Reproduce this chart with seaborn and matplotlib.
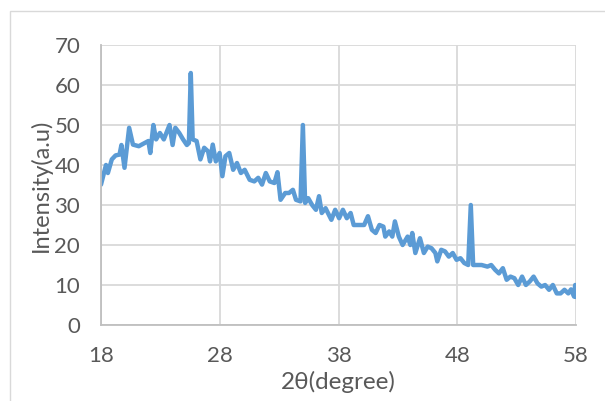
import numpy as np
import pandas as pd
import matplotlib
matplotlib.use("Agg")
import matplotlib.pyplot as plt
import seaborn as sns
from matplotlib.patches import Rectangle

two_theta = [18.00, 18.42, 18.58, 18.91, 19.23, 19.56, 19.72, 19.98, 20.37, 20.69,
             21.18, 21.67, 21.99, 22.15, 22.41, 22.64, 22.96, 23.29, 23.77, 24.03,
             24.26, 24.59, 24.91, 25.23, 25.40, 25.56, 25.72, 26.05, 26.37, 26.69,
             27.02, 27.18, 27.41, 27.67, 27.99, 28.22, 28.48, 28.80, 29.13, 29.45,
             29.78, 30.10, 30.52, 30.91, 31.24, 31.56, 31.88, 32.21, 32.60, 32.86,
             33.12, 33.51, 33.83, 34.16, 34.42, 34.80, 35.00, 35.19, 35.45, 35.78,
             36.10, 36.36, 36.59, 36.91, 37.40, 37.72, 38.05, 38.37, 38.70, 39.02,
             39.28, 39.83, 40.16, 40.48, 40.81, 41.13, 41.45, 41.78, 41.94, 42.27,
             42.53, 42.75, 43.08, 43.40, 43.82, 44.05, 44.21, 44.47, 44.86, 45.19,
             45.51, 45.83, 46.16, 46.32, 46.65, 46.97, 47.29, 47.62, 47.94, 48.27,
             48.59, 48.92, 49.14, 49.34, 50.05, 50.54, 50.86, 51.19, 51.51, 51.84,
             52.16, 52.48, 52.81, 53.13, 53.46, 53.78, 54.11, 54.43, 54.76, 55.08,
             55.40, 55.73, 56.05, 56.38, 56.70, 57.03, 57.35, 57.58, 57.84, 57.93,
             58.00]
intensity = [35.1, 40.0, 38.0, 41.4, 42.4, 42.6, 45.0, 39.3, 49.3, 45.1,
             44.7, 45.5, 46.0, 43.0, 50.0, 46.4, 48.0, 46.4, 50.0, 45.0,
             49.3, 48.0, 46.4, 45.0, 45.5, 63.0, 46.4, 46.0, 41.4, 44.3,
             43.4, 40.9, 45.1, 40.9, 43.0, 37.2, 42.2, 43.0, 38.8, 40.5,
             38.0, 38.8, 36.3, 35.9, 36.8, 35.1, 38.0, 35.9, 35.5, 38.2,
             31.3, 33.0, 33.0, 33.8, 31.3, 30.9, 50.0, 30.5, 31.7, 30.0,
             28.8, 32.2, 28.0, 29.2, 26.3, 28.8, 26.7, 28.8, 26.7, 28.0,
             25.0, 25.0, 25.0, 27.2, 23.8, 23.0, 25.0, 24.6, 22.1, 23.4,
             22.1, 25.9, 22.1, 20.0, 22.1, 20.0, 23.0, 18.0, 21.7, 18.0,
             19.6, 19.2, 18.0, 15.9, 18.8, 18.4, 17.1, 18.0, 16.3, 16.7,
             15.5, 15.0, 30.0, 15.0, 15.0, 14.6, 15.0, 13.8, 12.9, 14.2,
             11.3, 12.1, 11.7, 10.0, 12.1, 10.0, 10.9, 12.1, 10.4, 9.6,
             10.0, 8.8, 10.0, 7.9, 7.9, 8.8, 7.9, 8.9, 7.1, 10.0,
             7.0]

x_ticks = [18, 28, 38, 48, 58]
y_ticks = [0, 10, 20, 30, 40, 50, 60, 70]

df = pd.DataFrame({"two_theta": two_theta, "intensity": intensity})

sns.set_theme(style="whitegrid")
plt.rcParams['font.family'] = ['Lato', 'DejaVu Sans']

fig = plt.figure(figsize=(6.05, 4.01), dpi=100)
ax = fig.add_axes([101/605, 1 - 325/401, 475/605, 280/401])

sns.lineplot(data=df, x="two_theta", y="intensity", ax=ax,
             color="#5B9BD5", linewidth=3.2, solid_joinstyle="round")

ax.set_xlim(18, 58)
ax.set_ylim(0, 70)
ax.set_xticks(x_ticks)
ax.set_yticks(y_ticks)
ax.grid(True, color="#D9D9D9", linewidth=1.3)
for s in ["top", "right"]:
    ax.spines[s].set_visible(False)
for s in ["left", "bottom"]:
    ax.spines[s].set_visible(True)
    ax.spines[s].set_color("#BFBFBF")
    ax.spines[s].set_linewidth(1.3)
ax.tick_params(axis="both", length=0, labelsize=16, labelcolor="#595959")
ax.tick_params(axis="y", pad=15)
ax.tick_params(axis="x", pad=15)
ax.set_xlabel("2θ(degree)", fontsize=17.5, color="#595959", labelpad=4)
ax.set_ylabel("Intensity(a.u)", fontsize=17, color="#595959", labelpad=2)

fig.patches.append(Rectangle((10/605, -0.05), 1.0, 1 - 11/401 + 0.05,
                             transform=fig.transFigure, fill=False,
                             edgecolor="#D9D9D9", linewidth=1.0))

fig.savefig("out.png", dpi=100)
